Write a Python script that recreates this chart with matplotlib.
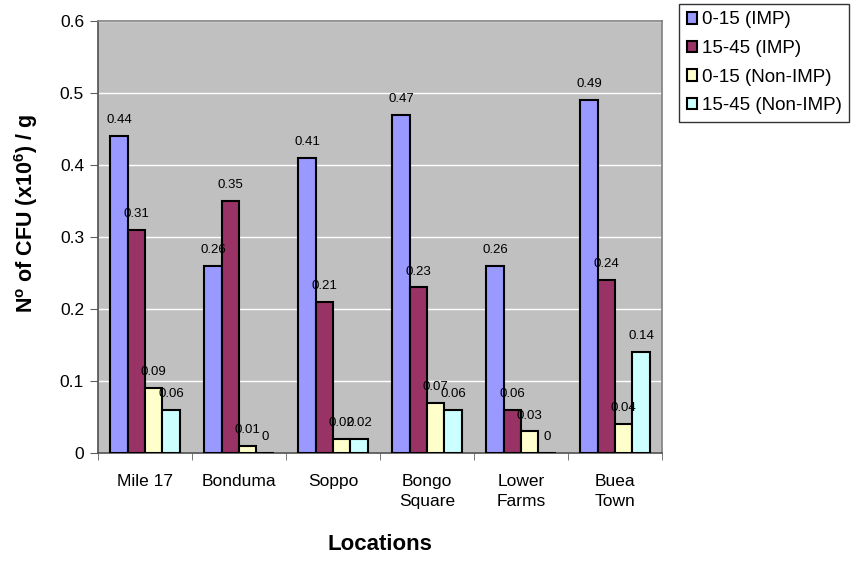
import numpy as np
import matplotlib.pyplot as plt

locations = ["Mile 17", "Bonduma", "Soppo", "Bongo\nSquare", "Lower\nFarms", "Buea\nTown"]
series_names = ["0-15 (IMP)", "15-45 (IMP)", "0-15 (Non-IMP)", "15-45 (Non-IMP)"]
imp_0_15 = [0.44, 0.26, 0.41, 0.47, 0.26, 0.49]
imp_15_45 = [0.31, 0.35, 0.21, 0.23, 0.06, 0.24]
non_0_15 = [0.09, 0.01, 0.02, 0.07, 0.03, 0.04]
non_15_45 = [0.06, 0, 0.02, 0.06, 0, 0.14]
y_ticks = [0, 0.1, 0.2, 0.3, 0.4, 0.5, 0.6]
y_tick_labels = ["0", "0.1", "0.2", "0.3", "0.4", "0.5", "0.6"]
colors = ["#9999FF", "#993366", "#FFFFCC", "#CCFFFF"]


def main():
    plt.rcParams['font.family'] = ['Liberation Sans', 'DejaVu Sans']
    plt.rcParams['mathtext.fontset'] = 'custom'
    plt.rcParams['mathtext.rm'] = 'Liberation Sans'
    plt.rcParams['mathtext.bf'] = 'Liberation Sans:bold'

    fig = plt.figure(figsize=(8.51, 5.61), dpi=100)
    ax = fig.add_axes([98 / 851, 1 - 453 / 561, 564 / 851, 432 / 561])
    ax.set_facecolor("#C0C0C0")

    x = np.arange(len(locations))
    width = 0.184
    all_series = [imp_0_15, imp_15_45, non_0_15, non_15_45]
    for i, (vals, name, col) in enumerate(zip(all_series, series_names, colors)):
        pos = x + (i - 1.5) * width
        ax.bar(pos, vals, width, color=col, edgecolor="black",
               linewidth=1.5, label=name, zorder=3)
        # value labels above each bar
        for p, v in zip(pos, vals):
            txt = "0" if v == 0 else f"{v:g}"
            ax.annotate(txt, (p, v), xytext=(0, 7), textcoords="offset points",
                        ha="center", va="bottom", fontsize=9.5, zorder=4)

    ax.set_ylim(0, 0.6)
    ax.set_yticks(y_ticks)
    ax.set_yticklabels(y_tick_labels)
    ax.yaxis.grid(True, color="white", linewidth=1, zorder=0)
    ax.set_xlim(-0.5, len(locations) - 0.5)

    # category names in the middle, tick marks on the boundaries
    ax.set_xticks(x)
    ax.set_xticklabels(locations, fontsize=12.5, linespacing=1.45)
    ax.tick_params(axis="x", length=0, pad=15)
    ax.set_xticks(np.arange(-0.5, len(locations)), minor=True)
    ax.tick_params(axis="x", which="minor", length=5, color="#606060")
    ax.tick_params(axis="y", labelsize=12.5, length=6, color="#606060", pad=4)

    for s in ax.spines.values():
        s.set_color("#808080")
        s.set_linewidth(1.2)
    ax.spines["left"].set_color("#505050")
    ax.spines["bottom"].set_color("#505050")

    ax.set_xlabel("Locations", fontsize=16, fontweight="bold")
    ax.xaxis.set_label_coords(0.5, -(534 - 453) / 432)
    ax.set_ylabel(r"N$^{\mathbf{o}}$ of CFU (x10$^{\mathbf{6}}$) / g",
                  fontsize=15.5, fontweight="bold")
    ax.yaxis.set_label_coords((40 - 98) / 564, (453 - 214) / 432)

    leg = fig.legend(loc="upper left", bbox_to_anchor=(679 / 851, 1 - 4 / 561),
                     fontsize=13.5, frameon=True, fancybox=False,
                     edgecolor="black", handlelength=0.55, handleheight=0.55,
                     handletextpad=0.25, borderpad=0.4, labelspacing=0.62,
                     borderaxespad=0)
    leg.get_frame().set_linewidth(1)
    for h in leg.legend_handles:
        h.set_linewidth(1.5)

    fig.savefig("out.png", dpi=100)


if __name__ == "__main__":
    main()
